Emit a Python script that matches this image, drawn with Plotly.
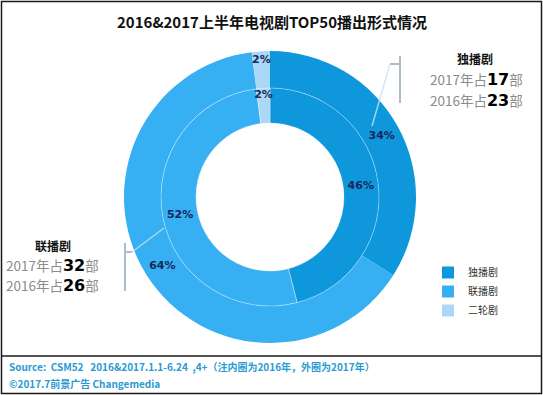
import plotly.graph_objects as go

W, H = 543, 395

categories = ["独播剧", "联播剧", "二轮剧"]
values_2017 = [34, 64, 2]   # outer ring
values_2016 = [46, 52, 2]   # inner ring
colors = ["#0F97DC", "#36AFF3", "#AAD8F6"]

title_text = "2016&2017上半年电视剧TOP50播出形式情况"
count_exclusive = {"2017": 17, "2016": 23}
count_syndicated = {"2017": 32, "2016": 26}
source_text = "Source:  CSM52   2016&2017.1.1-6.24  ,4+（注内圈为2016年，外圈为2017年）"
copyright_text = "©2017.7前景广告 Changemedia"


def px(x):
    return x / W


def py(y):
    return 1 - y / H


cx, cy = 270, 197
r_out, r_mid, r_in = 146, 109, 74

fig = go.Figure()
fig.add_trace(go.Pie(
    labels=categories, values=values_2017, sort=False, direction="clockwise",
    hole=r_mid / r_out,
    domain=dict(x=[px(cx - r_out), px(cx + r_out)], y=[py(cy + r_out), py(cy - r_out)]),
    marker=dict(colors=colors, line=dict(width=0)),
    texttemplate="<b>%{value}%</b>", textposition="inside",
    insidetextorientation="horizontal",
    textfont=dict(family="DejaVu Sans", size=11, color="#15285A"),
    hoverinfo="label+percent", name="2017",
))
fig.add_trace(go.Pie(
    labels=categories, values=values_2016, sort=False, direction="clockwise",
    hole=r_in / r_mid,
    domain=dict(x=[px(cx - r_mid), px(cx + r_mid)], y=[py(cy + r_mid), py(cy - r_mid)]),
    marker=dict(colors=colors, line=dict(width=1, color="rgba(255,255,255,0.35)")),
    texttemplate="<b>%{value}%</b>", textposition="inside",
    insidetextorientation="horizontal",
    textfont=dict(family="DejaVu Sans", size=11, color="#15285A"),
    hoverinfo="label+percent", name="2016", showlegend=False,
))

line_col = "#A9BDCB"
frame_col = "#1A1A1A"
shapes = [
    # outer frame
    dict(type="rect", xref="paper", yref="paper", x0=px(1.5), x1=px(541.5), y0=py(393.5), y1=py(1.5),
         line=dict(color=frame_col, width=1.5), layer="above"),
    # footer separator
    dict(type="line", xref="paper", yref="paper", x0=px(1.5), x1=px(541.5), y0=py(356), y1=py(356),
         line=dict(color=frame_col, width=1.5), layer="above"),
    # right bracket
    dict(type="line", xref="paper", yref="paper", x0=px(400), x1=px(400), y0=py(56), y1=py(103),
         line=dict(color=line_col, width=2)),
    dict(type="line", xref="paper", yref="paper", x0=px(390), x1=px(400), y0=py(64), y1=py(64),
         line=dict(color=line_col, width=2)),
    dict(type="line", xref="paper", yref="paper", x0=px(390), x1=px(372), y0=py(64), y1=py(126),
         line=dict(color="rgba(200,225,240,0.8)", width=1.5)),
    # left bracket
    dict(type="line", xref="paper", yref="paper", x0=px(125), x1=px(125), y0=py(243), y1=py(291),
         line=dict(color=line_col, width=2)),
    dict(type="line", xref="paper", yref="paper", x0=px(125), x1=px(132), y0=py(252), y1=py(252),
         line=dict(color=line_col, width=2)),
    dict(type="line", xref="paper", yref="paper", x0=px(132), x1=px(164), y0=py(252), y1=py(228),
         line=dict(color="rgba(200,225,240,0.8)", width=1.5)),
]

cjk = "Noto Sans CJK SC"
gray = "#8C8C8C"


def count_line(year, n):
    return (f"{year}年占<span style='font-family:DejaVu Sans;font-size:16px;color:#000'>"
            f"<b>{n}</b></span>部")


def ann(text, x, y, size, color, xanchor="center", align="center", family=cjk):
    return dict(text=text, x=px(x), y=py(y), xref="paper", yref="paper",
                xanchor=xanchor, yanchor="middle", align=align, showarrow=False,
                borderpad=0, font=dict(family=family, size=size, color=color))


annotations = [
    ann(f"<b>{title_text}</b>", 272, 22, 15, "#111"),
    ann("<b>独播剧</b>", 475, 58, 12, "#111"),
    ann(count_line("2017", count_exclusive["2017"]), 429, 79, 13.5, gray, "left", "left"),
    ann(count_line("2016", count_exclusive["2016"]), 429, 100, 13.5, gray, "left", "left"),
    ann("<b>联播剧</b>", 53, 245, 12, "#111"),
    ann(count_line("2017", count_syndicated["2017"]), 5, 265, 13.5, gray, "left", "left"),
    ann(count_line("2016", count_syndicated["2016"]), 5, 285, 13.5, gray, "left", "left"),
    ann(f"<b>{source_text}</b>", 8, 366, 10, "#2A9AD2", "left", "left"),
    ann(f"<b>{copyright_text}</b>", 8, 383, 10, "#2A9AD2", "left", "left"),
]

fig.update_layout(
    width=W, height=H,
    margin=dict(l=0, r=0, t=0, b=0),
    paper_bgcolor="white", plot_bgcolor="white",
    showlegend=True,
    legend=dict(x=px(428), y=py(258), xanchor="left", yanchor="top",
                font=dict(family=cjk, size=10, color="#333"),
                bgcolor="rgba(0,0,0,0)", itemwidth=30, tracegroupgap=0),
    uniformtext=dict(mode="show", minsize=11),
    shapes=shapes,
    annotations=annotations,
)

fig.write_html(
    "out.html",
    config={"displayModeBar": False},
    post_script="document.body.style.margin='0';document.body.style.overflow='hidden';",
)
